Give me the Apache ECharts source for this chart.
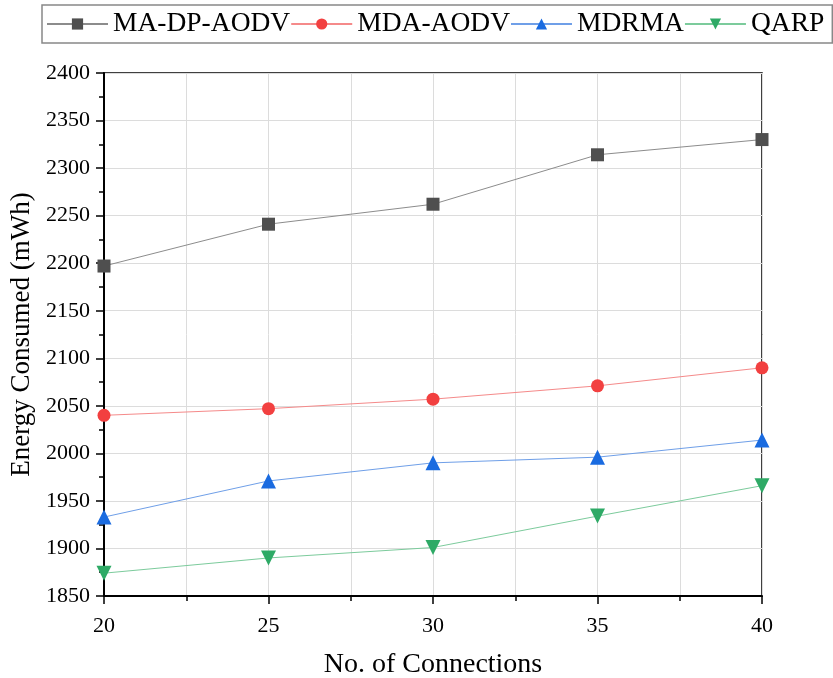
<!DOCTYPE html>
<html>
<head>
<meta charset="utf-8">
<script src="https://cdn.jsdelivr.net/npm/echarts@6/dist/echarts.min.js"></script>
<style>
  html, body { margin: 0; padding: 0; background: #fff; }
  #chart { width: 833px; height: 678px; }
</style>
</head>
<body>
<div id="chart"></div>
<script>
// Number of connections (x) and energy consumed in mWh for each protocol
const connections = [20, 25, 30, 35, 40];
const maDpAodv = [2197, 2241, 2262, 2314, 2330];
const mdaAodv = [2040, 2047, 2057, 2071, 2090];
const mdrma = [1933, 1971, 1990, 1996, 2014];
const qarp = [1874, 1890, 1901, 1934, 1966];

const seriesNames = ['MA-DP-AODV', 'MDA-AODV', 'MDRMA', 'QARP'];
const seriesValues = [maDpAodv, mdaAodv, mdrma, qarp];
const markerColors = ['#4f4f4f', '#f24040', '#1a6be0', '#2eaa66'];
const lineColors = ['#8c8c8c', '#f58a8a', '#6f9fe8', '#7ccb9c'];
const symbols = ['rect', 'circle', 'triangle', 'path://M0,0 L10,0 L5,9 Z'];
const symbolSizes = [13, 13, 15, 15];

const serif = '"Liberation Serif", "Times New Roman", serif';

const chart = echarts.init(document.getElementById('chart'), null, { renderer: 'canvas' });

const series = seriesNames.map((name, i) => ({
  name: name,
  type: 'line',
  data: connections.map((x, j) => [x, seriesValues[i][j]]),
  symbol: symbols[i],
  symbolSize: symbolSizes[i],
  clip: true,
  lineStyle: { color: lineColors[i], width: 1 },
  itemStyle: { color: markerColors[i] },
  z: 3
}));

chart.setOption({
  animation: false,
  backgroundColor: '#fff',
  grid: {
    left: 104, right: 71, top: 73, bottom: 82,
    outerBoundsMode: 'none',
    show: true, borderColor: '#000', borderWidth: 1.5, backgroundColor: 'transparent'
  },
  legend: {
    left: 42, top: 5, width: 800,
    padding: [5, 8, 5, 4],
    borderColor: '#888', borderWidth: 1.5,
    itemWidth: 61, itemHeight: 14, itemGap: 0,
    textStyle: { fontFamily: serif, fontSize: 27.5, color: '#000' },
    data: seriesNames
  },
  xAxis: {
    type: 'value', min: 20, max: 40, interval: 5,
    name: 'No. of Connections', nameLocation: 'middle', nameGap: 55,
    nameTextStyle: { fontFamily: serif, fontSize: 28, color: '#000' },
    axisLine: { show: true, lineStyle: { color: '#000', width: 2 } },
    axisTick: { show: true, inside: false, length: 8, lineStyle: { color: '#000', width: 1.5 } },
    minorTick: { show: true, splitNumber: 2, length: 5, lineStyle: { color: '#000', width: 1.5 } },
    axisLabel: { fontFamily: serif, fontSize: 22, color: '#000', margin: 19, formatter: (v) => String(v) },
    splitLine: { show: true, lineStyle: { color: '#dcdcdc', width: 1 } },
    minorSplitLine: { show: true, lineStyle: { color: '#dcdcdc', width: 1 } }
  },
  yAxis: {
    type: 'value', min: 1850, max: 2400, interval: 50,
    name: 'Energy Consumed (mWh)', nameLocation: 'middle', nameGap: 61,
    nameTextStyle: { fontFamily: serif, fontSize: 27, color: '#000' },
    axisLine: { show: true, lineStyle: { color: '#000', width: 2 } },
    axisTick: { show: true, inside: false, length: 8, lineStyle: { color: '#000', width: 1.5 } },
    minorTick: { show: true, splitNumber: 2, length: 5, lineStyle: { color: '#000', width: 1.5 } },
    axisLabel: { fontFamily: serif, fontSize: 22, color: '#000', margin: 14, formatter: (v) => String(v) },
    splitLine: { show: true, lineStyle: { color: '#dcdcdc', width: 1 } }
  },
  series: series
});
</script>
</body>
</html>
